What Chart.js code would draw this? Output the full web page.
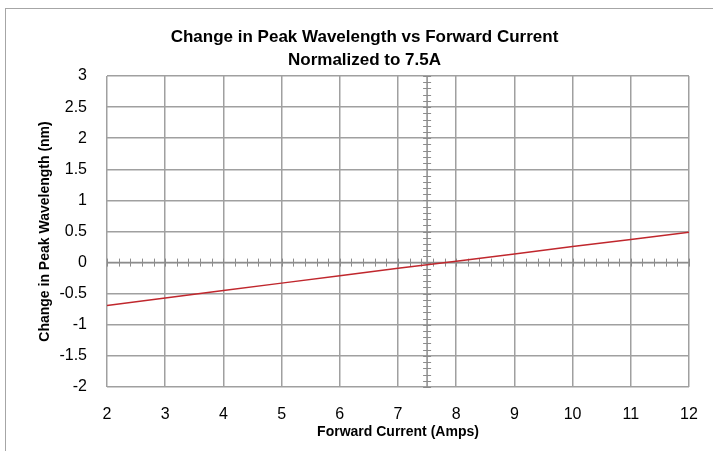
<!DOCTYPE html>
<html>
<head>
<meta charset="utf-8">
<script src="https://cdn.jsdelivr.net/npm/chart.js@4"></script>
<style>
  html, body { margin: 0; padding: 0; background: #fff; }
  #wrap { width: 713px; height: 451px; }
</style>
</head>
<body>
<div id="wrap"><canvas id="peakChart" width="713" height="451"></canvas></div>
<script>
// values
const currentAmps = [2, 3, 4, 5, 6, 7, 8, 9, 10, 11, 12];
const peakShift = [-0.69, -0.57, -0.45, -0.33, -0.21, -0.09, 0.02, 0.14, 0.26, 0.37, 0.49];
const xTickLabels = ["2", "3", "4", "5", "6", "7", "8", "9", "10", "11", "12"];
const yTickLabels = ["-2", "-1.5", "-1", "-0.5", "0", "0.5", "1", "1.5", "2", "2.5", "3"];
const titleLines = ["Change in Peak Wavelength vs Forward Current", "Normalized to 7.5A"];

const gridGray = "#a0a0a0";
const axisGray = "#8c8c8c";
const fontName = "'Liberation Sans', Arial, sans-serif";

// frame round the chart + the axes crossing at 7.5A / 0nm, with minor ticks
const excelAxes = {
  id: "excelAxes",
  beforeDraw(chart) {
    const ctx = chart.ctx;
    ctx.save();
    ctx.fillStyle = "#fff";
    ctx.fillRect(0, 0, chart.width, chart.height);
    ctx.strokeStyle = "#a6a6a6";
    ctx.lineWidth = 1;
    ctx.strokeRect(5.5, 8.5, chart.width + 20, chart.height + 20);
    ctx.restore();
  },
  beforeDatasetsDraw(chart) {
    const ctx = chart.ctx;
    const xs = chart.scales.x;
    const ys = chart.scales.y;
    const x0 = xs.getPixelForValue(7.5);
    const y0 = ys.getPixelForValue(0);
    ctx.save();
    ctx.strokeStyle = axisGray;
    ctx.lineWidth = 1.5;
    ctx.beginPath();
    ctx.moveTo(xs.left, y0);
    ctx.lineTo(xs.right, y0);
    ctx.moveTo(x0, ys.top);
    ctx.lineTo(x0, ys.bottom);
    ctx.stroke();
    ctx.lineWidth = 1;
    ctx.beginPath();
    for (let i = 0; i <= 50; i++) {
      const px = Math.round(xs.getPixelForValue(2 + i * 0.2)) + 0.5;
      ctx.moveTo(px, y0 - 4);
      ctx.lineTo(px, y0 + 4);
    }
    for (let i = 0; i <= 50; i++) {
      const py = Math.round(ys.getPixelForValue(-2 + i * 0.1)) + 0.5;
      ctx.moveTo(x0 - 4, py);
      ctx.lineTo(x0 + 4, py);
    }
    ctx.stroke();
    ctx.restore();
  },
};

new Chart(document.getElementById("peakChart"), {
  type: "scatter",
  data: {
    datasets: [
      {
        label: "Change in Peak Wavelength",
        data: currentAmps.map((a, i) => ({ x: a, y: peakShift[i] })),
        showLine: true,
        borderColor: "#c0272d",
        borderWidth: 1.5,
        pointRadius: 0,
        fill: false,
      },
    ],
  },
  options: {
    responsive: false,
    animation: false,
    layout: { padding: { left: 40, right: 24, top: 0, bottom: 0 } },
    plugins: {
      legend: { display: false },
      tooltip: { enabled: false },
      title: {
        display: true,
        text: titleLines,
        color: "#000",
        font: { family: fontName, size: 17, weight: "bold", lineHeight: 1.35 },
        padding: { top: 25.5, bottom: 4.6 },
      },
    },
    scales: {
      x: {
        type: "linear",
        min: 2,
        max: 12,
        afterBuildTicks: (s) => { s.ticks = currentAmps.map((v) => ({ value: v })); },
        afterFit: (s) => {
          s.height = 64;
          s.paddingLeft = 0;
          s.paddingRight = 0;
        },
        ticks: {
          color: "#000",
          padding: 18,
          maxRotation: 0,
          font: { family: fontName, size: 16 },
          callback: (v, i) => xTickLabels[i],
        },
        grid: { color: gridGray, lineWidth: 1.5, drawTicks: false },
        border: { display: false },
        title: {
          display: true,
          text: "Forward Current (Amps)",
          color: "#000",
          font: { family: fontName, size: 14, weight: "bold", lineHeight: 1.2 },
          padding: { top: 0, bottom: 10 },
        },
      },
      y: {
        type: "linear",
        min: -2,
        max: 3,
        afterBuildTicks: (s) => { s.ticks = yTickLabels.map((t) => ({ value: Number(t) })); },
        afterFit: (s) => { s.width = 67; },
        ticks: {
          color: "#000",
          padding: 20,
          font: { family: fontName, size: 16 },
          callback: (v, i) => yTickLabels[i],
        },
        grid: { color: gridGray, lineWidth: 1.5, drawTicks: false },
        border: { display: false },
        title: {
          display: true,
          text: "Change in Peak Wavelength (nm)",
          color: "#000",
          font: { family: fontName, size: 14, weight: "bold", lineHeight: 1 },
          padding: { top: -2, bottom: 0 },
        },
      },
    },
  },
  plugins: [excelAxes],
});
</script>
</body>
</html>
